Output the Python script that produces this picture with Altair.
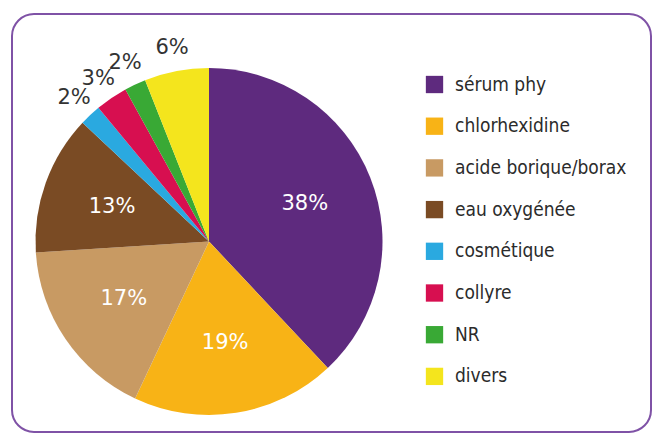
import altair as alt
import pandas as pd

categories = ["sérum phy", "chlorhexidine", "acide borique/borax", "eau oxygénée",
              "cosmétique", "collyre", "NR", "divers"]
values = [38, 19, 17, 13, 2, 3, 2, 6]
labels = ["38%", "19%", "17%", "13%", "2%", "3%", "2%", "6%"]
colors = ["#5e2a7e", "#f8b316", "#c89a63", "#7a4b24",
          "#2aa9e0", "#d70f50", "#39a935", "#f4e51d"]

df = pd.DataFrame({
    "cat": categories,
    "value": values,
    "label": labels,
    "idx": list(range(len(categories))),
})

CX, CY, R = 201, 233.5, 173.5

border = alt.Chart(pd.DataFrame({"a": [0]})).mark_rect(
    fill="white", stroke="#7f52a6", strokeWidth=2, cornerRadius=22
).encode(x=alt.value(4), x2=alt.value(643), y=alt.value(6), y2=alt.value(424))

base = alt.Chart(df).encode(
    theta=alt.Theta("value:Q", stack=True),
    order=alt.Order("idx:Q"),
    x=alt.value(CX),
    y=alt.value(CY),
)

arcs = base.mark_arc(radius=R, stroke=None).encode(
    color=alt.Color(
        "cat:N",
        scale=alt.Scale(domain=categories, range=colors),
        sort=categories,
        legend=alt.Legend(
            title=None, orient="none", legendX=417, legendY=67,
            symbolType="square", symbolSize=300, symbolStrokeWidth=0,
            labelFont="DejaVu Sans Condensed", labelFontSize=19,
            labelColor="#2b2b2b", labelOffset=11, rowPadding=21.7,
            labelLimit=400, padding=0, symbolOpacity=1,
        ),
    )
)

inner = base.mark_text(
    radius=103, fontSize=21, font="DejaVu Sans", color="white"
).encode(
    text=alt.condition(alt.datum.value >= 10, alt.Text("label:N"), alt.value(""))
)

outer = base.mark_text(
    radius=197, fontSize=21, font="DejaVu Sans", color="#333333"
).encode(
    text=alt.condition(alt.datum.value < 10, alt.Text("label:N"), alt.value(""))
)

chart = alt.layer(border, arcs, inner, outer).properties(
    width=645, height=425, autosize=alt.AutoSizeParams(type="none"), padding=0
).configure_view(stroke=None)

chart.save("out.html", embed_options={"renderer": "svg", "actions": False})
